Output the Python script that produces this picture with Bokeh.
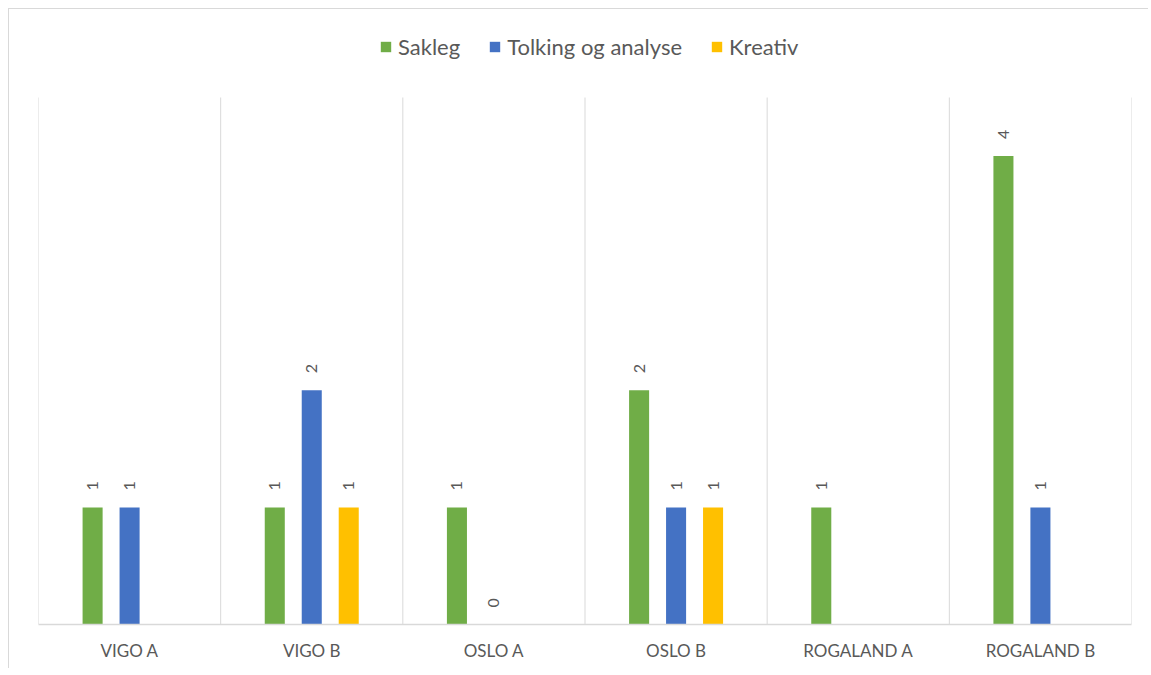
import numpy as np
from bokeh.plotting import figure
from bokeh.models import ColumnDataSource, FixedTicker, Legend, LegendItem, Range1d
from bokeh.embed import file_html
from bokeh.resources import INLINE
from bokeh.core.properties import value

categories = ["VIGO A", "VIGO B", "OSLO A", "OSLO B", "ROGALAND A", "ROGALAND B"]
series_names = ["Sakleg", "Tolking og analyse", "Kreativ"]
sakleg = [1, 1, 1, 2, 1, 4]
tolking = [1, 2, 0, 1, None, 1]
kreativ = [None, 1, None, 1, None, None]
series_values = [sakleg, tolking, kreativ]
colors = ["#70AD47", "#4472C4", "#FFC000"]
offsets = [-0.203, 0.0, 0.203]
y_top = 4.5

FONT = "Lato"
TXT = "#595959"
GRID = "#d9d9d9"

# frame spans legend area too; plot area ends at y_top (606px tall frame, 527px for y_top)
y_end = y_top * 606.0 / 527.0

p = figure(width=1140, height=660, output_backend="svg", toolbar_location=None,
           x_range=Range1d(0, len(categories)), y_range=Range1d(0, y_end),
           min_border_left=29, min_border_right=18, min_border_top=9, min_border_bottom=45)
p.outline_line_color = None
p.background_fill_color = "white"
p.border_fill_color = "white"
p.styles = {"margin-left": "8px", "margin-top": "8px",
            "border-left": "1px solid #d9d9d9", "border-top": "1px solid #d9d9d9"}

# category separators
bounds = list(range(len(categories) + 1))
p.segment(x0=bounds, y0=[0] * len(bounds), x1=bounds, y1=[y_top] * len(bounds),
          line_color=GRID, line_width=1)

items = []
for name, vals, col, off in zip(series_names, series_values, colors, offsets):
    xs = [i + 0.5 + off for i, v in enumerate(vals) if v is not None]
    ys = [v for v in vals if v is not None]
    src = ColumnDataSource(dict(x=xs, top=ys, lab=[str(v) for v in ys]))
    r = p.vbar(x="x", top="top", bottom=0, width=0.11, source=src,
               fill_color=col, line_color=None)
    p.text(x="x", y="top", text="lab", source=src, angle=np.pi / 2,
           text_align="left", text_baseline="middle", y_offset=-17,
           text_font=value(FONT), text_font_size="16px", text_color=TXT)
    items.append(LegendItem(label=name, renderers=[r]))

legend = Legend(items=items, orientation="horizontal", location=(341, 564),
                label_text_font=FONT, label_text_font_size="22px", label_text_color=TXT,
                glyph_width=13, glyph_height=13, spacing=28, label_standoff=6,
                border_line_color=None, background_fill_alpha=0, margin=0, padding=4)
p.add_layout(legend, "center")

p.yaxis.visible = False
p.ygrid.grid_line_color = None
p.xgrid.grid_line_color = None

ax = p.xaxis[0]
ax.ticker = FixedTicker(ticks=[i + 0.5 for i in range(len(categories))])
ax.major_label_overrides = {i + 0.5: c for i, c in enumerate(categories)}
ax.major_tick_line_color = None
ax.minor_tick_line_color = None
ax.major_tick_out = 0
ax.major_tick_in = 0
ax.major_label_standoff = 15
ax.axis_line_color = GRID
ax.axis_line_width = 1.5
ax.major_label_text_font = FONT
ax.major_label_text_font_size = "17px"
ax.major_label_text_color = TXT

open("out.html", "w").write(file_html(p, INLINE))
